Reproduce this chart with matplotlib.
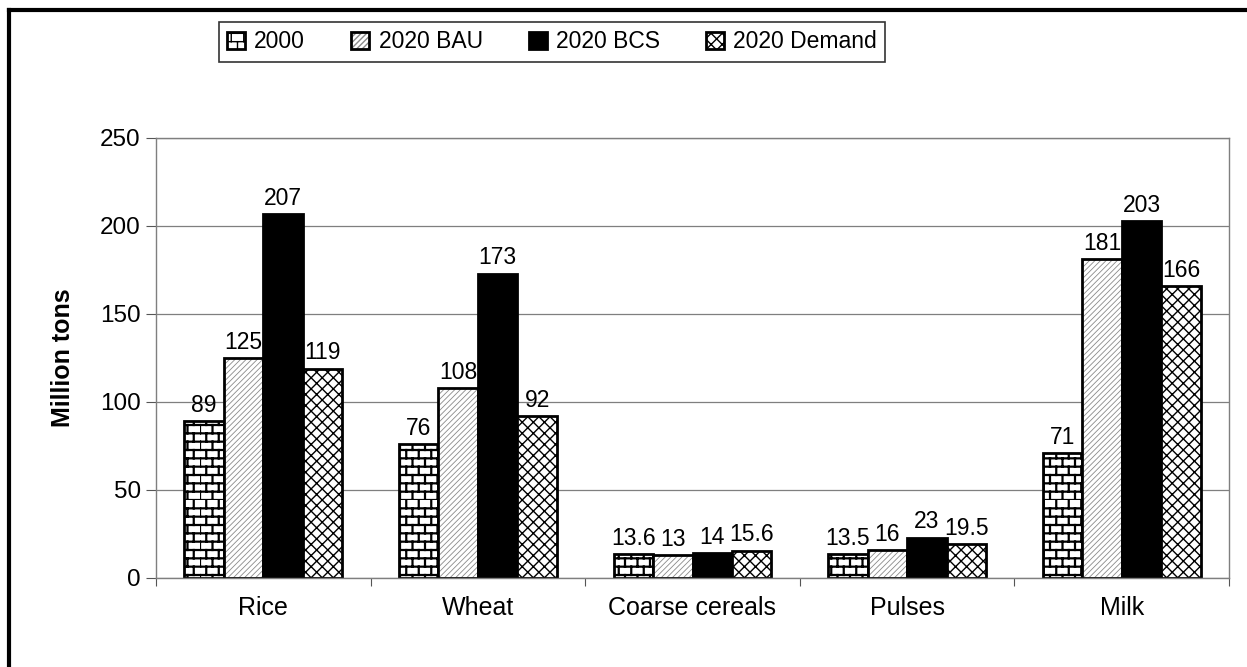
import warnings
warnings.filterwarnings("ignore")
import numpy as np
import matplotlib
matplotlib.use("Agg")
import matplotlib.pyplot as plt
import matplotlib.hatch as mhatch
from matplotlib.path import Path
from matplotlib.lines import Line2D

# ---------------- data ----------------
categories = ["Rice", "Wheat", "Coarse cereals", "Pulses", "Milk"]
series_names = ["2000", "2020 BAU", "2020 BCS", "2020 Demand"]
v2000 = [89, 76, 13.6, 13.5, 71]
v2020_bau = [125, 108, 13, 16, 181]
v2020_bcs = [207, 173, 14, 23, 203]
v2020_demand = [119, 92, 15.6, 19.5, 166]
yticks = [0, 50, 100, 150, 200, 250]


# ---------------- custom brick hatch ----------------
class BrickHatch(mhatch.HatchPatternBase):
    def __init__(self, hatch, density):
        n = hatch.count('b')
        self.rows = int(2 * n * density) if n else 0
        self.cols = int(round(self.rows * 2 / 3)) if self.rows else 0
        self.num_vertices = (self.rows * 2 + self.rows * self.cols * 2) if self.rows else 0

    def set_vertices_and_codes(self, vertices, codes):
        k = 0
        for i in range(self.rows):
            y = i / self.rows
            vertices[k] = (0, y); vertices[k + 1] = (1, y)
            k += 2
        for i in range(self.rows):
            y0 = i / self.rows
            y1 = (i + 1) / self.rows
            off = 0.5 * (i % 2)
            for j in range(self.cols):
                x = ((j + off) / self.cols) % 1.0
                vertices[k] = (x, y0); vertices[k + 1] = (x, y1)
                k += 2
        codes[0::2] = Path.MOVETO
        codes[1::2] = Path.LINETO


mhatch._hatch_types.append(BrickHatch)

plt.rcParams['font.family'] = ['Liberation Sans', 'DejaVu Sans']
plt.rcParams['hatch.linewidth'] = 1.0

fig = plt.figure(figsize=(12.47, 6.67), dpi=100)
ax = fig.add_axes([156 / 1247, 89 / 667, (1229 - 156) / 1247, 440 / 667])

x = np.arange(len(categories))
w = 0.184
offsets = np.array([-1.5, -0.5, 0.5, 1.5]) * w

# grid
ax.set_axisbelow(True)
ax.yaxis.grid(True, color='#7f7f7f', lw=0.9)

def set_hlw(container, lw):
    for p in container:
        if hasattr(p, 'set_hatch_linewidth'):
            p.set_hatch_linewidth(lw)

# 2000 - brick
b0 = ax.bar(x + offsets[0], v2000, w, color='white', edgecolor='black',
            hatch='b', linewidth=2.0)
set_hlw(b0, 1.6)
# 2020 BAU - light diagonal
b1h = ax.bar(x + offsets[1], v2020_bau, w, color='white', edgecolor='#8a8a8a',
             hatch='//////', linewidth=0)
set_hlw(b1h, 0.6)
b1 = ax.bar(x + offsets[1], v2020_bau, w, fill=False, edgecolor='black', linewidth=2.0)
# 2020 BCS - black
b2 = ax.bar(x + offsets[2], v2020_bcs, w, color='black', edgecolor='black', linewidth=2.0)
# 2020 Demand - crosshatch
b3 = ax.bar(x + offsets[3], v2020_demand, w, color='white', edgecolor='black',
            hatch='xxx', linewidth=2.0)
set_hlw(b3, 1.0)

for cont in (b0, b1, b2, b3):
    ax.bar_label(cont, fmt='%g', padding=3, fontsize=16.5)

ax.set_xlim(-0.5, len(categories) - 0.5)
ax.set_ylim(0, 250)
ax.set_yticks(yticks)
ax.tick_params(axis='y', labelsize=17.5, length=7, color='#555555', direction='out', pad=4)

ax.set_xticks(np.arange(-0.5, len(categories), 1.0))
ax.set_xticklabels([])
ax.tick_params(axis='x', which='major', length=6, color='#555555', direction='out')
ax.set_xticks(x, minor=True)
ax.set_xticklabels(categories, minor=True, fontsize=18)
ax.tick_params(axis='x', which='minor', length=0, pad=13)

for s in ax.spines.values():
    s.set_color('#7f7f7f')
    s.set_linewidth(1.0)

ax.set_ylabel('Million tons', fontsize=18, fontweight='bold', labelpad=18)

# legend
handles = [b0[0], (b1h[0], b1[0]), b2[0], b3[0]]
leg = fig.legend(handles, series_names, loc='center', bbox_to_anchor=(552 / 1247, 1 - 42 / 667),
                 ncol=4, fontsize=16.5, frameon=True, fancybox=False, edgecolor='black',
                 handlelength=0.8, handleheight=0.8, handletextpad=0.4, columnspacing=2.0,
                 borderpad=0.35, borderaxespad=0)
leg.get_frame().set_linewidth(1.2)

# outer frame (left and top edges)
fig.add_artist(Line2D([9 / 1247, 9 / 1247], [0, 1 - 10 / 667], transform=fig.transFigure,
                      color='black', lw=3))
fig.add_artist(Line2D([9 / 1247, 1], [1 - 10 / 667, 1 - 10 / 667], transform=fig.transFigure,
                      color='black', lw=3))

fig.savefig('out.png', dpi=100)
